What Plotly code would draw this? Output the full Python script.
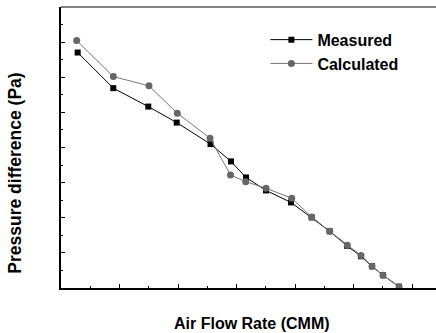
import plotly.graph_objects as go

# Data (arbitrary units, no tick labels shown)
measured_x = [0.285, 0.894, 1.492, 1.978, 2.556, 2.906, 3.162, 3.504, 3.932, 4.285, 4.593, 4.889, 5.128, 5.316, 5.504, 5.778]
measured_y = [6.704, 5.689, 5.165, 4.709, 4.097, 3.604, 3.148, 2.778, 2.436, 2.009, 1.615, 1.202, 0.903, 0.618, 0.362, 0.037]
calc_x = [0.268, 0.894, 1.504, 1.988, 2.547, 2.897, 3.157, 3.504, 3.944, 4.285, 4.593, 4.894, 5.128, 5.316, 5.504, 5.778]
calc_y = [7.046, 6.020, 5.755, 4.977, 4.265, 3.219, 3.028, 2.840, 2.556, 2.023, 1.615, 1.217, 0.926, 0.618, 0.362, 0.037]

series_names = ["Measured", "Calculated"]
x_title = "Air Flow Rate (CMM)"
y_title = "Pressure difference (Pa)"

FONT = "Liberation Sans, Arial, sans-serif"

fig = go.Figure()
fig.add_trace(go.Scatter(
    x=measured_x, y=measured_y, name="<b>" + series_names[0] + "</b>", mode="lines+markers",
    line=dict(color="black", width=1),
    marker=dict(symbol="square", size=6, color="black"),
))
fig.add_trace(go.Scatter(
    x=calc_x, y=calc_y, name="<b>" + series_names[1] + "</b>", mode="lines+markers",
    line=dict(color="#777777", width=1),
    marker=dict(symbol="circle", size=7, color="#666666"),
))

fig.update_layout(
    width=436, height=333,
    margin=dict(l=61, r=0, t=7, b=45),
    plot_bgcolor="white", paper_bgcolor="white",
    showlegend=True,
    legend=dict(x=0.545, y=0.944, xanchor="left", yanchor="top",
                bgcolor="rgba(0,0,0,0)", borderwidth=0, itemwidth=42,
                font=dict(family=FONT, size=16, color="black"),
                tracegroupgap=0),
    font=dict(family=FONT, color="black"),
    xaxis=dict(range=[0, 6.41], showgrid=False, zeroline=False,
               showline=True, linecolor="black", linewidth=1.5,
               ticks="inside", ticklen=4, tickcolor="black", dtick=1, tick0=0,
               minor=dict(ticks="inside", ticklen=2, dtick=0.5, tickcolor="black"),
               showticklabels=False),
    yaxis=dict(range=[0, 8.0], showgrid=False, zeroline=False,
               showline=True, linecolor="black", linewidth=1.5,
               ticks="inside", ticklen=4, tickcolor="black", dtick=1, tick0=0,
               minor=dict(ticks="inside", ticklen=2, dtick=0.5, tickcolor="black"),
               showticklabels=False),
    shapes=[dict(type="line", xref="paper", yref="paper", x0=0, x1=1, y0=1, y1=1,
                 line=dict(color="#555555", width=1.5))],
    annotations=[
        dict(text="<b>" + x_title + "</b>", xref="paper", yref="paper",
             x=0.51, y=-0.128, xanchor="center", yanchor="middle", showarrow=False,
             font=dict(family=FONT, size=16, color="black")),
        dict(text="<b>" + y_title + "</b>", xref="paper", yref="paper",
             x=-0.123, y=0.41, xanchor="center", yanchor="middle", showarrow=False,
             textangle=-90, font=dict(family=FONT, size=17.5, color="black")),
    ],
)

fig.write_html("out.html")
